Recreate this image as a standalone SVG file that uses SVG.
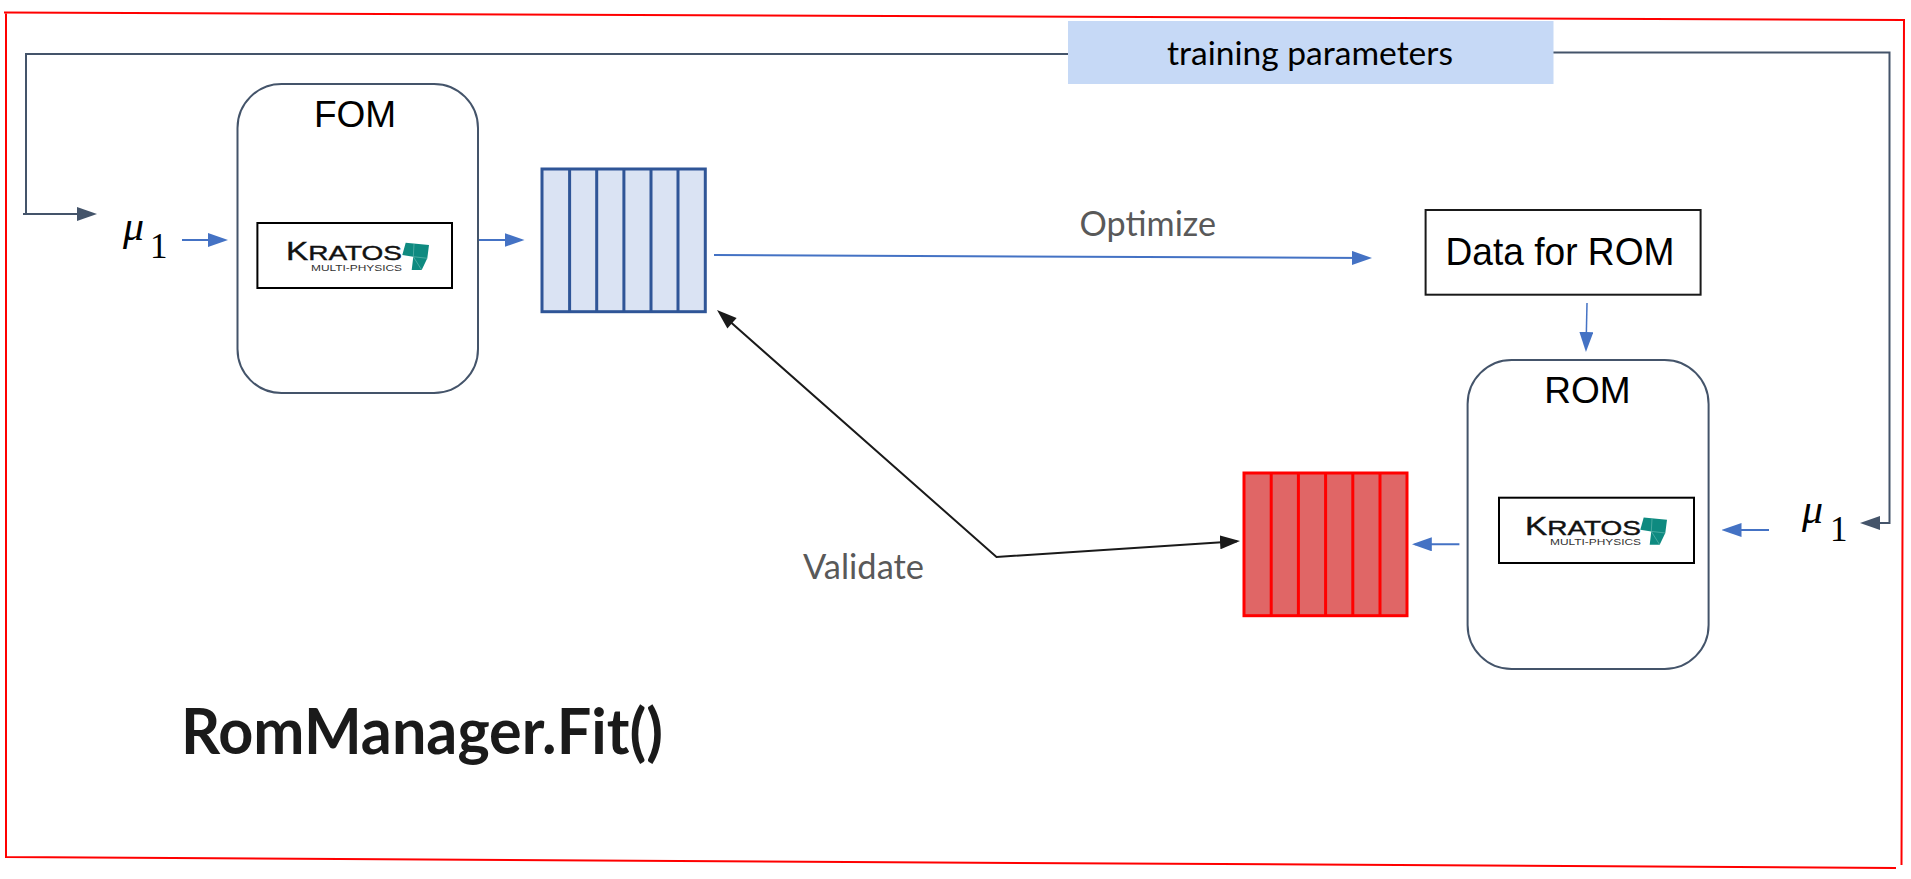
<svg xmlns="http://www.w3.org/2000/svg" xmlns:xlink="http://www.w3.org/1999/xlink" width="1911" height="879" viewBox="0 0 1911 879">
<style>
.frame{fill:none;stroke:#ff0000;stroke-width:2}
.node{fill:#ffffff;stroke:#44546a;stroke-width:2}
.logo-box{fill:#ffffff;stroke:#000000;stroke-width:2}
.blue-list{fill:#dae3f3;stroke:#2f5597;stroke-width:3}
.red-list{fill:#e06666;stroke:#ff0000;stroke-width:3}
.link{fill:none;stroke-width:2}
.blue{stroke:#4472c4}
.dark{stroke:#44546a}
.black{stroke:#1a1a1a}
.arial{font-family:"Liberation Sans",Arial,sans-serif;fill:#000000}
.lato{font-family:Lato,"Open Sans",sans-serif}
.serif{font-family:"Liberation Serif","Times New Roman",serif;fill:#000000}
.logo-main{font-family:"Liberation Sans",Arial,sans-serif;fill:#111111;font-size:21px;stroke:#111111;stroke-width:0.4}
.logo-sub{font-family:"Liberation Sans",Arial,sans-serif;fill:#333333;font-size:9px}
</style>
<defs>
<marker id="ah-blue" markerUnits="userSpaceOnUse" markerWidth="20" markerHeight="14" viewBox="0 0 20 14" refX="17" refY="7" orient="auto"><path d="M0 0L20 7L0 14Z" fill="#4472c4"/></marker>
<marker id="ah-dark" markerUnits="userSpaceOnUse" markerWidth="20" markerHeight="14" viewBox="0 0 20 14" refX="17" refY="7" orient="auto"><path d="M0 0L20 7L0 14Z" fill="#44546a"/></marker>
<marker id="ah-black" markerUnits="userSpaceOnUse" markerWidth="20" markerHeight="14" viewBox="0 0 20 14" refX="17" refY="7" orient="auto"><path d="M0 0L20 7L0 14Z" fill="#1a1a1a"/></marker>
<g id="teal"><path d="M405.7 242.7L429 245L427.3 258.3L421.7 270L411.7 270L413.3 256.7L402.3 255Z" fill="#0e8a80"/><path d="M414 244L413.3 256.7L427.3 258.3M413.3 256.7L421.7 270" fill="none" stroke="#6fbdb6" stroke-width="0.6"/></g>
</defs>
<g id="frame">
<path class="frame" d="M4 12.5L1904 20L1901.5 865M6 12.5L6 857M5 857L1896 868"/>
</g>
<g id="connectors">
<path class="link dark" d="M1068 54L26 54L26 214M23 214L94 214" marker-end="url(#ah-dark)"/>
<path class="link dark" d="M1553 52.5L1889.5 52.5L1889.5 523L1863 523" marker-end="url(#ah-dark)"/>
<path class="link blue" d="M182 240L225 240" marker-end="url(#ah-blue)"/>
<path class="link blue" d="M478 240L521.5 240" marker-end="url(#ah-blue)"/>
<path class="link blue" d="M714 255L1369 258" marker-end="url(#ah-blue)"/>
<path class="link blue" style="stroke-width:1.5" d="M1587 303L1586 349" marker-end="url(#ah-blue)"/>
<path class="link blue" d="M1769 530L1724.5 530" marker-end="url(#ah-blue)"/>
<path class="link blue" d="M1459.4 544.3L1414.8 544.3" marker-end="url(#ah-blue)"/>
<path class="link black" d="M722 314.5L996.5 557L1237 541.2" marker-end="url(#ah-black)"/>
<path d="M717 310L736.6 318.1L727.4 328.5Z" fill="#1a1a1a"/>
</g>
<g id="training-parameters">
<rect x="1068" y="21" width="485.5" height="63" fill="#c6d9f6"/>
<text class="lato" x="1167" y="65" font-size="33" fill="#000000" textLength="286" lengthAdjust="spacingAndGlyphs">training parameters</text>
</g>
<g id="fom">
<rect class="node" x="237.5" y="84" width="240.5" height="309" rx="44" ry="44"/>
<text class="arial" x="355" y="127" font-size="37" text-anchor="middle">FOM</text>
<rect class="logo-box" x="257.4" y="223" width="194.6" height="65"/>
<text class="logo-main" x="286" y="260" textLength="116" lengthAdjust="spacingAndGlyphs"><tspan font-size="25">K</tspan>RATOS</text>
<text class="logo-sub" x="311" y="270.5" textLength="91" lengthAdjust="spacingAndGlyphs">MULTI-PHYSICS</text>
<use xlink:href="#teal" href="#teal"/>
</g>
<g id="mu-left">
<text class="serif" x="123" y="240" font-size="42" font-style="italic">μ</text>
<text class="serif" x="150" y="258" font-size="35">1</text>
</g>
<g id="snapshots-fom">
<rect class="blue-list" x="542" y="169" width="163.3" height="142.7"/>
<path class="blue-list" d="M569.6 169V311.7M596.7 169V311.7M623.9 169V311.7M651 169V311.7M678 169V311.7"/>
</g>
<g id="label-optimize">
<text class="lato" x="1079.6" y="236" font-size="34" fill="#595959" textLength="136.4" lengthAdjust="spacingAndGlyphs">Optimize</text>
</g>
<g id="data-for-rom">
<rect x="1425.6" y="210" width="275" height="84.7" fill="#ffffff" stroke="#1a1a1a" stroke-width="2"/>
<text class="arial" x="1445.5" y="265" font-size="39" textLength="229" lengthAdjust="spacingAndGlyphs">Data for ROM</text>
</g>
<g id="rom">
<rect class="node" x="1467.6" y="360" width="241" height="309" rx="44" ry="44"/>
<text class="arial" x="1587.5" y="403" font-size="37" text-anchor="middle">ROM</text>
<rect class="logo-box" x="1499" y="497.7" width="195" height="65.3"/>
<text class="logo-main" x="1525" y="534.7" textLength="116" lengthAdjust="spacingAndGlyphs"><tspan font-size="25">K</tspan>RATOS</text>
<text class="logo-sub" x="1550" y="545.2" textLength="91" lengthAdjust="spacingAndGlyphs">MULTI-PHYSICS</text>
<use xlink:href="#teal" href="#teal" transform="translate(1238 274.7)"/>
</g>
<g id="mu-right">
<text class="serif" x="1802" y="523" font-size="42" font-style="italic">μ</text>
<text class="serif" x="1830" y="541" font-size="35">1</text>
</g>
<g id="snapshots-rom">
<rect class="red-list" x="1244" y="473" width="163" height="142.7"/>
<path class="red-list" d="M1271.2 473V615.7M1298.4 473V615.7M1325.6 473V615.7M1352.8 473V615.7M1380 473V615.7"/>
</g>
<g id="label-validate">
<text class="lato" x="803" y="579" font-size="34" fill="#595959" textLength="121" lengthAdjust="spacingAndGlyphs">Validate</text>
</g>
<g id="title">
<text class="lato" x="181" y="754" font-size="64" font-weight="700" fill="#1a1a1a" textLength="482" lengthAdjust="spacingAndGlyphs">RomManager.Fit()</text>
</g>
</svg>
